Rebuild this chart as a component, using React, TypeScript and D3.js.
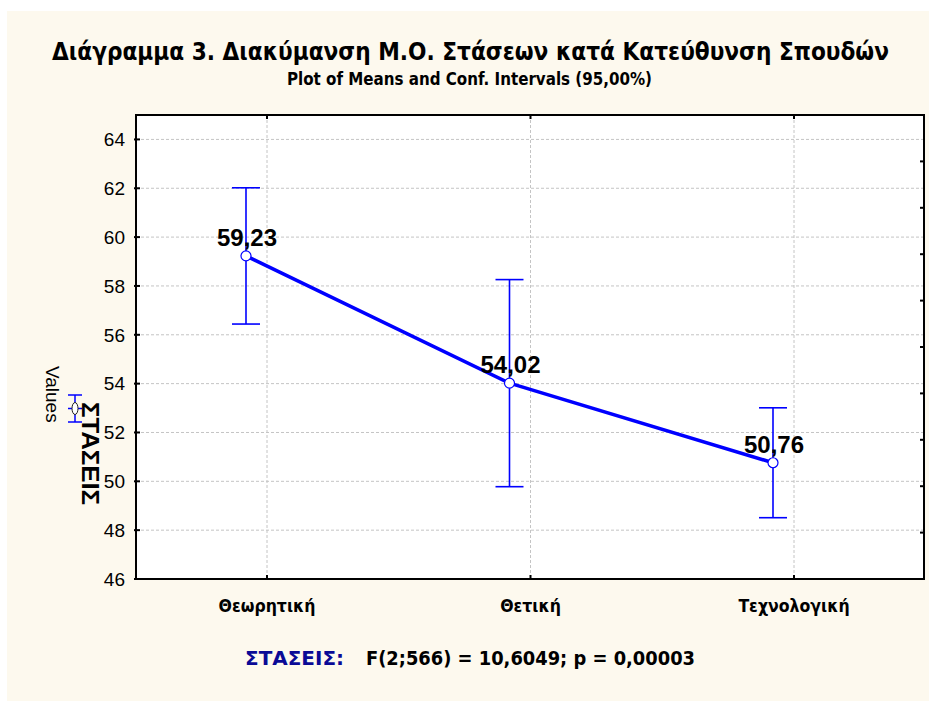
import React from "react";
import * as d3 from "d3";

const categories = ["Θεωρητική", "Θετική", "Τεχνολογική"];
const means = [59.23, 54.02, 50.76];
const ciLower = [56.44, 49.78, 48.51];
const ciUpper = [62.02, 58.26, 53.01];
const meanLabels = ["59,23", "54,02", "50,76"];
const yTicks = [46, 48, 50, 52, 54, 56, 58, 60, 62, 64];
const rightTicks = [1, 2, 3, 4, 5, 6, 7, 8, 9];

const titleText = "Διάγραμμα 3. Διακύμανση Μ.Ο. Στάσεων κατά Κατεύθυνση Σπουδών";
const subtitleText = "Plot of Means and Conf. Intervals (95,00%)";
const yAxisTitle = "Values";
const seriesName = "ΣΤΑΣΕΙΣ";
const statPrefix = "ΣΤΑΣΕΙΣ:";
const statText = "F(2;566) = 10,6049; p = 0,00003";

const W = 929;
const H = 702;
const frame = { left: 136, right: 924, top: 115, bottom: 579 };
const markerShift = -21;
const BLUE = "#0000ff";
const GRID = "#c4c4c4";
const BG = "#fdf9ee";
const comic = "'DejaVu Sans Condensed', 'DejaVu Sans', sans-serif";
const arial = "'Liberation Sans', Arial, sans-serif";

export default function App() {
  const y = d3.scaleLinear().domain([46, 65]).range([frame.bottom, frame.top]);
  const x = d3.scalePoint<string>().domain(categories).range([267, 794]).padding(0);
  const yRight = d3.scaleLinear().domain([0, 10]).range([frame.bottom, frame.top]);

  const pts = categories.map((c, i) => ({
    cx: (x(c) as number) + markerShift,
    m: means[i],
    lo: ciLower[i],
    hi: ciUpper[i],
    label: meanLabels[i],
  }));
  const line = d3
    .line<{ cx: number; m: number }>()
    .x((d) => d.cx)
    .y((d) => y(d.m));

  const capHalf = 14;

  return (
    <svg
      width={W}
      height={H}
      viewBox={`0 0 ${W} ${H}`}
      style={{ position: "absolute", left: 0, top: 0, display: "block" }}
    >
      <rect x={0} y={0} width={W} height={H} fill="#ffffff" />
      <rect x={7} y={11} width={W - 7} height={H - 12} fill={BG} />

      <text
        x={52}
        y={60}
        fontFamily={comic}
        fontWeight="bold"
        fontSize={25}
        textLength={837}
        lengthAdjust="spacingAndGlyphs"
        fill="#000"
      >
        {titleText}
      </text>
      <text
        x={287}
        y={85}
        fontFamily={comic}
        fontWeight="bold"
        fontSize={17}
        textLength={365}
        lengthAdjust="spacingAndGlyphs"
        fill="#000"
      >
        {subtitleText}
      </text>

      {/* plot area */}
      <rect
        x={frame.left}
        y={frame.top}
        width={frame.right - frame.left}
        height={frame.bottom - frame.top}
        fill="#ffffff"
      />

      {/* horizontal grid */}
      {yTicks.map((t) => (
        <line
          key={"gy" + t}
          x1={frame.left}
          x2={frame.right}
          y1={y(t)}
          y2={y(t)}
          stroke={GRID}
          strokeWidth={1}
          strokeDasharray="3,2"
        />
      ))}
      {/* vertical grid */}
      {categories.map((c) => (
        <line
          key={"gx" + c}
          x1={x(c)}
          x2={x(c)}
          y1={frame.top}
          y2={frame.bottom}
          stroke={GRID}
          strokeWidth={1}
          strokeDasharray="3,2"
        />
      ))}

      {/* frame */}
      <rect
        x={frame.left}
        y={frame.top}
        width={frame.right - frame.left}
        height={frame.bottom - frame.top}
        fill="none"
        stroke="#000"
        strokeWidth={2}
      />

      {/* left ticks and labels */}
      {yTicks.map((t) => (
        <g key={"ty" + t}>
          <line x1={frame.left - 2} x2={frame.left + 4} y1={y(t)} y2={y(t)} stroke="#000" strokeWidth={2} />
          <text
            x={frame.left - 11}
            y={y(t)}
            dy="0.36em"
            textAnchor="end"
            fontFamily={arial}
            fontSize={19}
            fill="#000"
          >
            {t}
          </text>
        </g>
      ))}
      {/* right ticks */}
      {rightTicks.map((t) => (
        <line
          key={"tr" + t}
          x1={frame.right - 4}
          x2={frame.right}
          y1={yRight(t)}
          y2={yRight(t)}
          stroke="#000"
          strokeWidth={2}
        />
      ))}
      {/* top/bottom ticks */}
      {categories.map((c) => (
        <g key={"tx" + c}>
          <line x1={x(c)} x2={x(c)} y1={frame.bottom} y2={frame.bottom - 4} stroke="#000" strokeWidth={2} />
          <line x1={x(c)} x2={x(c)} y1={frame.top} y2={frame.top + 4} stroke="#000" strokeWidth={2} />
          <text
            x={x(c)}
            y={612}
            textAnchor="middle"
            fontFamily={comic}
            fontWeight="bold"
            fontSize={17.5}
            fill="#000"
          >
            {c}
          </text>
        </g>
      ))}

      {/* error bars */}
      {pts.map((p, i) => (
        <g key={"eb" + i} stroke={BLUE} strokeWidth={1.6}>
          <line x1={p.cx} x2={p.cx} y1={y(p.lo)} y2={y(p.hi)} />
          <line x1={p.cx - capHalf} x2={p.cx + capHalf} y1={y(p.hi)} y2={y(p.hi)} />
          <line x1={p.cx - capHalf} x2={p.cx + capHalf} y1={y(p.lo)} y2={y(p.lo)} />
        </g>
      ))}

      {/* mean line */}
      <path d={line(pts) || ""} fill="none" stroke={BLUE} strokeWidth={3.6} strokeLinejoin="round" />

      {/* labels */}
      {pts.map((p, i) => (
        <text
          key={"lb" + i}
          x={p.cx + 1}
          y={y(p.m) - 10}
          textAnchor="middle"
          fontFamily={arial}
          fontWeight="bold"
          fontSize={24}
          fill="#000"
        >
          {p.label}
        </text>
      ))}

      {/* markers */}
      {pts.map((p, i) => (
        <circle key={"mk" + i} cx={p.cx} cy={y(p.m)} r={5} fill="#fff" stroke={BLUE} strokeWidth={1.2} />
      ))}

      {/* y axis title */}
      <text
        transform="translate(46,366) rotate(90)"
        fontFamily={arial}
        fontSize={19}
        fill="#000"
      >
        {yAxisTitle}
      </text>
      {/* legend symbol */}
      <g stroke={BLUE} strokeWidth={1.5}>
        <line x1={75} x2={75} y1={395} y2={422} />
        <line x1={68} x2={82} y1={395} y2={395} />
        <line x1={68} x2={82} y1={422} y2={422} />
        <line x1={68} x2={82} y1={408.5} y2={408.5} />
      </g>
      <ellipse cx={75} cy={408.5} rx={3} ry={6} fill="#fff" stroke="#222" strokeWidth={1} />
      <text
        transform="translate(82,402) rotate(90)"
        fontFamily={arial}
        fontWeight="bold"
        fontSize={23}
        textLength={103}
        lengthAdjust="spacingAndGlyphs"
        fill="#000"
      >
        {seriesName}
      </text>

      {/* statistic */}
      <text
        x={245}
        y={665}
        fontFamily={comic}
        fontWeight="bold"
        fontSize={19}
        textLength={99}
        lengthAdjust="spacingAndGlyphs"
        fill="#0a0a96"
      >
        {statPrefix}
      </text>
      <text
        x={366}
        y={665}
        fontFamily={comic}
        fontWeight="bold"
        fontSize={19}
        textLength={329}
        lengthAdjust="spacingAndGlyphs"
        fill="#000"
      >
        {statText}
      </text>
    </svg>
  );
}
